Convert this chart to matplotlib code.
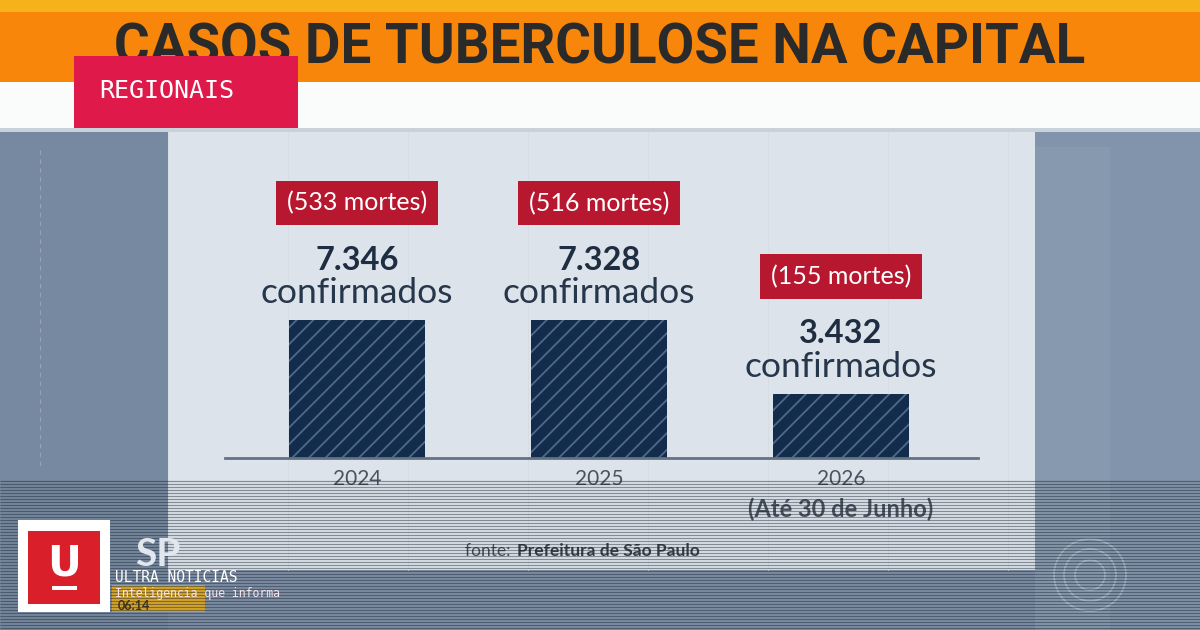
import numpy as np
import matplotlib
matplotlib.use("Agg")
import matplotlib.pyplot as plt
from matplotlib.patches import Rectangle, Circle
from matplotlib import font_manager

# ---------------- data ----------------
years = ["2024", "2025", "2026"]
confirmed = [7346, 7328, 3432]
deaths = [533, 516, 155]
year_notes = ["", "", "(Até 30 de Junho)"]
title = "CASOS DE TUBERCULOSE NA CAPITAL"
source_prefix = "fonte:"
source_name = "Prefeitura de São Paulo"

def has_font(name):
    try:
        font_manager.findfont(font_manager.FontProperties(family=name), fallback_to_default=False)
        return True
    except Exception:
        return False

BODY = "Lato" if has_font("Lato") else "DejaVu Sans"
TITLEF = "Liberation Sans Narrow" if has_font("Liberation Sans Narrow") else ("Roboto" if has_font("Roboto") else "DejaVu Sans")
MONO = "DejaVu Sans Mono"

# colours
YELLOW = "#f5b21a"
ORANGE = "#f7860b"
WHITE_BAND = "#fafbfb"
REGIONAIS = "#e0194b"
BG = "#7d8fa5"
PANEL = "#dde3ea"
RED = "#b7172f"
DARK = "#1e2d41"
BAR = "#142c4b"
HATCH = "#4d6a8a"
AXIS = "#627285"
TICK = "#4a5461"

W, H = 1200, 630
fig = plt.figure(figsize=(12, 6.3), dpi=100)

# ------------- background layer (pixel coords) -------------
bg = fig.add_axes([0, 0, 1, 1], zorder=0)
bg.set_xlim(0, W)
bg.set_ylim(H, 0)
bg.axis("off")

def rect(ax, x0, y0, x1, y1, color, **kw):
    ax.add_patch(Rectangle((x0, y0), x1 - x0, y1 - y0, facecolor=color, edgecolor="none", **kw))

rect(bg, 0, 0, W, H, BG)
rect(bg, 0, 130, 168, H, "#7689a0")
rect(bg, 1035, 130, W, H, "#8194ab")
rect(bg, 1035, 147, 1110, H, "#8799ae")
rect(bg, 168, 132, 1035, 570, PANEL)
# faint grid on panel
for gx in range(168, 1035, 120):
    bg.plot([gx, gx], [132, 570], color="#d5dce4", lw=0.6, zorder=1)
bg.plot([40, 40], [150, 470], color="#95a5b8", lw=0.8, ls=(0, (4, 4)))

# header bands
rect(bg, 0, 0, W, 12, YELLOW)
rect(bg, 0, 12, W, 82, ORANGE)
rect(bg, 0, 82, W, 130, WHITE_BAND)
rect(bg, 0, 128, W, 132, "#c9d1da")

t = bg.text(600, 49, title, ha="center", va="center", color="#2a2a2a",
            fontsize=40, fontweight="bold", family=TITLEF)
fig.canvas.draw()
bb = t.get_window_extent()
t.set_fontsize(40 * 970 / bb.width)

rect(bg, 74, 56, 298, 128, REGIONAIS, zorder=3)
bg.text(99, 91, "REGIONAIS", ha="left", va="center", color="white",
        fontsize=18, family=MONO, zorder=4)

# ------------- chart layer -------------
base_px, top_px = 458, 140
left_px, right_px = 225, 978
ax = fig.add_axes([left_px / W, (H - base_px) / H, (right_px - left_px) / W, (base_px - top_px) / H], zorder=2)
ax.patch.set_alpha(0)
x = np.arange(len(years))
ymax = max(confirmed) * (base_px - top_px) / 138.0
ax.set_ylim(0, ymax)
ax.set_xlim(-0.545, 2.566)

plt.rcParams["hatch.linewidth"] = 1.3
ax.bar(x, confirmed, width=0.56, color=BAR, edgecolor=HATCH, linewidth=0, hatch="//")

for s in ["top", "left", "right"]:
    ax.spines[s].set_visible(False)
ax.spines["bottom"].set_color(AXIS)
ax.spines["bottom"].set_linewidth(2)
ax.set_yticks([])
ax.set_xticks(x)
ax.set_xticklabels(years, fontsize=15, color=TICK, family=BODY)
ax.tick_params(axis="x", length=0, pad=8)

for xi, v, d, note in zip(x, confirmed, deaths, year_notes):
    ax.annotate("confirmados", (xi, v), xytext=(0, 27), textcoords="offset pixels",
                ha="center", va="center", fontsize=25.5, color="#26364b", family=BODY)
    ax.annotate(f"{v:,}".replace(",", "."), (xi, v), xytext=(0, 60), textcoords="offset pixels",
                ha="center", va="center", fontsize=23.5, fontweight="bold", color=DARK, family=BODY)
    ax.annotate(f"({d} mortes)", (xi, v), xytext=(0, 117), textcoords="offset pixels",
                ha="center", va="center", fontsize=18, color="white", family=BODY,
                bbox=dict(boxstyle="square,pad=0.42", fc=RED, ec="none"))
    if note:
        ax.annotate(note, (xi, 0), xytext=(0, -51), textcoords="offset pixels",
                    ha="center", va="center", fontsize=17, fontweight="bold", color=TICK, family=BODY)

# source
bg.text(515, 551, source_prefix + " ", ha="right", va="center", fontsize=12.5, color="#4a5058", family=BODY, zorder=3)
bg.text(517, 551, source_name, ha="left", va="center", fontsize=12.5, fontweight="bold", color="#3a3f46", family=BODY, zorder=3)

# ------------- overlay layer -------------
ov = fig.add_axes([0, 0, 1, 1], zorder=5)
ov.set_xlim(0, W)
ov.set_ylim(H, 0)
ov.axis("off")
ov.patch.set_alpha(0)
ys = np.arange(481, H, 3)
ov.hlines(ys, 0, W, color="#17202b", lw=0.9, alpha=0.45)

# globo-like watermark
for r in (36, 26, 15):
    ov.add_patch(Circle((1090, 575), r, fill=False, ec="#c5cfda", lw=1.2, alpha=0.6))

# SP / clock block
rect(ov, 112, 585, 205, 612, "#d9a82a")
ov.text(118, 606, "06:14", ha="left", va="center", fontsize=9, fontweight="bold", color="#3a3325", family=BODY)
ov.text(158, 554, "SP", ha="center", va="center", fontsize=28, fontweight="bold", color="#e2e7ed", family=BODY)

# logo
rect(ov, 18, 520, 110, 612, "white", zorder=6)
rect(ov, 28, 531, 100, 604, "#d81f2a", zorder=7)
ov.text(64, 563, "U", ha="center", va="center", fontsize=30, fontweight="bold", color="white", family="DejaVu Sans", zorder=8)
rect(ov, 52, 586, 77, 590, "white", zorder=8)
ov.text(115, 577, "ULTRA NOTICIAS", ha="left", va="center", fontsize=10.5, color="white", family=MONO, zorder=8)
ov.text(115, 594, "Inteligencia que informa", ha="left", va="center", fontsize=8.3, color="#f6e4e8", family=MONO, zorder=8)

fig.savefig("out.png", dpi=100)
